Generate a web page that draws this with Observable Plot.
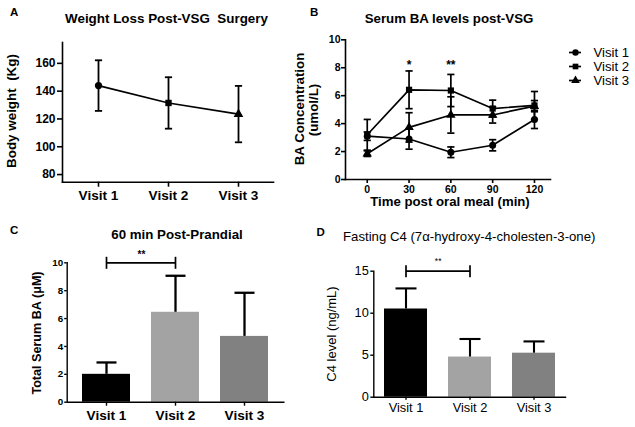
<!DOCTYPE html>
<html><head><meta charset="utf-8">
<script src="https://cdn.jsdelivr.net/npm/d3@7"></script>
<script src="https://cdn.jsdelivr.net/npm/@observablehq/plot@0.6"></script>
<style>
html,body{margin:0;padding:0;background:#fff;}
#fig{position:relative;width:635px;height:427px;overflow:hidden;background:#fff;}
.panel{position:absolute;}
.panel svg{display:block;overflow:visible;}
</style></head><body><div id="fig"></div>
<script>
// ---------- data ----------
const visits = ["Visit 1", "Visit 2", "Visit 3"];
// Panel A: body weight (Kg)
const weightMean = [144, 131.5, 123.5];
const weightErr = [18.2, 18.5, 20.3];
const weightTicks = [80, 100, 120, 140, 160];
// Panel B: serum BA (umol/L) over time
const times = [0, 30, 60, 90, 120];
const baMean = {
  "Visit 1": [3.1, 2.9, 1.95, 2.45, 4.3],
  "Visit 2": [3.2, 6.42, 6.37, 5.08, 5.3],
  "Visit 3": [1.85, 3.73, 4.62, 4.62, 5.25]
};
const baErr = {
  "Visit 1": [0.3, 0.73, 0.38, 0.4, 0.65],
  "Visit 2": [1.1, 1.35, 1.15, 0.6, 1.0],
  "Visit 3": [0.2, 1.05, 1.3, 0.58, 0.4]
};
const baTicks = [0, 2, 4, 6, 8, 10];
const sigB = [{time: 30, label: "*"}, {time: 60, label: "**"}];
// Panel C: 60 min post-prandial total serum BA (uM)
const pp60Mean = [2.0, 6.45, 4.72];
const pp60Err = [0.85, 2.62, 3.13];
const pp60Ticks = [0, 2, 4, 6, 8, 10];
// Panel D: fasting C4 (ng/mL)
const c4Mean = [10.5, 4.78, 5.24];
const c4Err = [2.45, 2.15, 1.4];
const c4Ticks = [0, 5, 10, 15];
const sigC = [{from: "Visit 1", to: "Visit 2", y: 10, ty: 10.55, label: "**"}];
const sigD = [{from: "Visit 1", to: "Visit 2", y: 15, ty: 16.2, label: "**"}];
const barColors = ["#000000", "#a3a3a3", "#818181"];
const symbols = ["circle", "square", "triangle"];

// ---------- helpers ----------
const FONT = '"Liberation Sans", Arial, sans-serif';
const fig = document.getElementById("fig");
const capSym = {draw(ctx, size) { const w = Math.sqrt(size / Math.PI); ctx.moveTo(-w, 0); ctx.lineTo(w, 0); }};
const vcapSym = {draw(ctx, size) { const w = Math.sqrt(size / Math.PI); ctx.moveTo(0, -w); ctx.lineTo(0, w); }};
const axisLines = (w) => [Plot.frame({anchor: "left", strokeWidth: w}), Plot.frame({anchor: "bottom", strokeWidth: w})];

function mount(node, left, top) {
  const d = document.createElement("div");
  d.className = "panel";
  d.style.left = left + "px"; d.style.top = top + "px";
  d.appendChild(node); fig.appendChild(d);
}
function place(text, o) {
  const size = o.size, d = document.createElement("div");
  d.textContent = text;
  Object.assign(d.style, {position: "absolute", whiteSpace: "pre", fontSize: size + "px", lineHeight: size + "px",
    fontWeight: o.weight || "bold", fontFamily: FONT, color: "#000"});
  if (o.rotate) {
    d.style.left = (o.x - 0.3465 * size) + "px";
    d.style.top = o.y + "px";
    d.style.transform = "translate(-50%,-50%) rotate(-90deg)";
  } else {
    d.style.left = o.x + "px";
    d.style.top = (o.y - 0.8465 * size) + "px";
    if (o.anchor === "middle") d.style.transform = "translateX(-50%)";
  }
  fig.appendChild(d);
}

// ---------- Panel A ----------
const weightRows = visits.map((v, i) => ({visit: v, mean: weightMean[i], lo: weightMean[i] - weightErr[i], hi: weightMean[i] + weightErr[i]}));
mount(Plot.plot({
  width: 310, height: 205, marginLeft: 62, marginRight: 37, marginTop: 42, marginBottom: 23.3,
  style: {fontFamily: FONT, fontWeight: "bold", color: "#000", background: "transparent"},
  x: {type: "point", domain: visits, padding: 0.5},
  y: {domain: [74.5, 175]},
  symbol: {domain: visits, range: symbols},
  marks: [
    ...axisLines(1.6),
    Plot.axisY({ticks: weightTicks, tickSize: 5, tickPadding: 2, fontSize: 12, label: null, strokeWidth: 1.6}),
    Plot.axisX({tickSize: 5, tickPadding: 3.5, fontSize: 13.6, label: null, strokeWidth: 1.6}),
    Plot.ruleX(weightRows, {x: "visit", y1: "lo", y2: "hi", strokeWidth: 1.8}),
    Plot.dot(weightRows, {x: "visit", y: "lo", symbol: capSym, r: 3.6, stroke: "black", strokeWidth: 1.8}),
    Plot.dot(weightRows, {x: "visit", y: "hi", symbol: capSym, r: 3.6, stroke: "black", strokeWidth: 1.8}),
    Plot.line(weightRows, {x: "visit", y: "mean", strokeWidth: 1.7}),
    Plot.dot(weightRows, {x: "visit", y: "mean", symbol: "visit", fill: "black", r: 3.6})
  ]
}), 0, 0);

// ---------- Panel B ----------
const baRows = visits.flatMap(v => times.map((t, i) => ({visit: v, time: t, mean: baMean[v][i], lo: baMean[v][i] - baErr[v][i], hi: baMean[v][i] + baErr[v][i]})));
mount(Plot.plot({
  width: 325, height: 215, marginLeft: 35, marginRight: 85, marginTop: 39.3, marginBottom: 36,
  style: {fontFamily: FONT, fontWeight: "bold", color: "#000", background: "transparent"},
  x: {domain: [-15.6, 131.5]},
  y: {domain: [0, 10]},
  symbol: {domain: visits, range: symbols},
  marks: [
    ...axisLines(1.6),
    Plot.axisY({ticks: baTicks, tickSize: 4, tickPadding: 1, fontSize: 10.5, label: null, strokeWidth: 1.6}),
    Plot.axisX({ticks: times, tickSize: 4, tickPadding: 2, fontSize: 10.5, label: null, strokeWidth: 1.6}),
    Plot.ruleX(baRows, {x: "time", y1: "lo", y2: "hi", strokeWidth: 1.7}),
    Plot.dot(baRows, {x: "time", y: "lo", symbol: capSym, r: 3.6, stroke: "black", strokeWidth: 1.7}),
    Plot.dot(baRows, {x: "time", y: "hi", symbol: capSym, r: 3.6, stroke: "black", strokeWidth: 1.7}),
    Plot.line(baRows, {x: "time", y: "mean", z: "visit", strokeWidth: 1.7}),
    Plot.dot(baRows, {x: "time", y: "mean", symbol: "visit", fill: "black", r: 3.5}),
    Plot.text(sigB, {x: "time", y: 8.15, text: "label", fontSize: 12})
  ]
}), 310, 0);

// legend for panel B
mount(Plot.plot({
  width: 70, height: 50, marginLeft: 0, marginRight: 0, marginTop: 11.5, marginBottom: 10.5,
  style: {fontFamily: FONT, color: "#000", background: "transparent"},
  x: {type: "identity", axis: null},
  y: {type: "point", domain: visits, padding: 0, axis: null},
  symbol: {domain: visits, range: symbols},
  marks: [
    Plot.ruleY(visits, {y: d => d, x1: 9, x2: 21, strokeWidth: 1.7}),
    Plot.dot(visits, {x: 15, y: d => d, symbol: d => d, fill: "black", r: 3.2}),
    Plot.text(visits, {x: 33, y: d => d, text: d => d, textAnchor: "start", fontSize: 13.2})
  ]
}), 560, 40);

// ---------- Panel C ----------
const cRows = visits.map((v, i) => ({visit: v, mean: pp60Mean[i], hi: pp60Mean[i] + pp60Err[i]}));
const cHalfStep = d3.scaleBand().domain(visits).range([66.7, 283.3]).paddingInner(0.3).paddingOuter(0.2).step() / 2;
mount(Plot.plot({
  width: 310, height: 222, marginLeft: 66.7, marginRight: 26.7, marginTop: 57.3, marginBottom: 25.3,
  style: {fontFamily: FONT, fontWeight: "bold", color: "#000", background: "transparent"},
  x: {type: "band", domain: visits, paddingInner: 0.3, paddingOuter: 0.2},
  y: {domain: [0, 10]},
  color: {domain: visits, range: barColors},
  marks: [
    Plot.barY(cRows, {x: "visit", y: "mean", fill: "visit"}),
    Plot.ruleX(cRows, {x: "visit", y1: "mean", y2: "hi", strokeWidth: 2.3}),
    Plot.dot(cRows, {x: "visit", y: "hi", symbol: capSym, r: 10, stroke: "black", strokeWidth: 2.3}),
    ...axisLines(1.4),
    Plot.axisY({ticks: pp60Ticks, tickSize: 2.5, tickPadding: 1.5, fontSize: 9.8, label: null, strokeWidth: 1.4}),
    Plot.axisX({tickSize: 4, tickPadding: 4.3, fontSize: 13.6, label: null, strokeWidth: 1.4}),
    Plot.link(sigC, {x1: "from", x2: "to", y1: "y", y2: "y", strokeWidth: 1.7}),
    Plot.dot(sigC, {x: "from", y: "y", symbol: vcapSym, r: 6, stroke: "black", strokeWidth: 1.7}),
    Plot.dot(sigC, {x: "to", y: "y", symbol: vcapSym, r: 6, stroke: "black", strokeWidth: 1.7}),
    Plot.text(sigC, {x: "from", y: "ty", text: "label", dx: cHalfStep, fontSize: 10})
  ]
}), 0, 205);

// ---------- Panel D ----------
const dRows = visits.map((v, i) => ({visit: v, mean: c4Mean[i], hi: c4Mean[i] + c4Err[i]}));
const dHalfStep = d3.scaleBand().domain(visits).range([63.3, 255]).paddingInner(0.33).paddingOuter(0.155).step() / 2;
mount(Plot.plot({
  width: 325, height: 222, marginLeft: 63.3, marginRight: 70, marginTop: 65.7, marginBottom: 30.3,
  style: {fontFamily: FONT, fontWeight: "normal", color: "#000", background: "transparent"},
  x: {type: "band", domain: visits, paddingInner: 0.33, paddingOuter: 0.155},
  y: {domain: [0, 15]},
  color: {domain: visits, range: barColors},
  marks: [
    Plot.barY(dRows, {x: "visit", y: "mean", fill: "visit"}),
    Plot.ruleX(dRows, {x: "visit", y1: "mean", y2: "hi", strokeWidth: 2.1}),
    Plot.dot(dRows, {x: "visit", y: "hi", symbol: capSym, r: 10.5, stroke: "black", strokeWidth: 2.1}),
    ...axisLines(1.4),
    Plot.axisY({ticks: c4Ticks, tickSize: 3, tickPadding: 2, fontSize: 12.8, label: null, strokeWidth: 1.4}),
    Plot.axisX({tickSize: 3, tickPadding: 3, fontSize: 12.8, label: null, strokeWidth: 1.4}),
    Plot.link(sigD, {x1: "from", x2: "to", y1: "y", y2: "y", strokeWidth: 1.7}),
    Plot.dot(sigD, {x: "from", y: "y", symbol: vcapSym, r: 6, stroke: "black", strokeWidth: 1.7}),
    Plot.dot(sigD, {x: "to", y: "y", symbol: vcapSym, r: 6, stroke: "black", strokeWidth: 1.7}),
    Plot.text(sigD, {x: "from", y: "ty", text: "label", dx: dHalfStep, fontSize: 8.5})
  ]
}), 310, 205);

// ---------- texts ----------
place("A", {x: 10, y: 17, size: 11.5});
place("Weight Loss Post-VSG  Surgery", {x: 166.5, y: 23, size: 13.4, anchor: "middle"});
place("Body weight  (Kg)", {x: 16.5, y: 110.5, size: 13.4, rotate: true});

place("B", {x: 310, y: 16.7, size: 11.5});
place("Serum BA levels post-VSG", {x: 449, y: 23, size: 13.3, anchor: "middle"});
place("BA Concentration", {x: 305, y: 108.5, size: 13.3, rotate: true});
place("(umol/L)", {x: 318.5, y: 110, size: 13.3, rotate: true});
place("Time post oral meal (min)", {x: 450, y: 206, size: 13.2, anchor: "middle"});

place("C", {x: 10, y: 235, size: 11.5});
place("60 min Post-Prandial", {x: 177, y: 239, size: 13.3, anchor: "middle"});
place("Total Serum BA (\u03bcM)", {x: 41, y: 332.5, size: 12.6, rotate: true});

place("D", {x: 316.5, y: 236.7, size: 11.5});
place("Fasting C4 (7\u03b1-hydroxy-4-cholesten-3-one)", {x: 343, y: 241.5, size: 13.2, weight: "normal"});
place("C4 level (ng/mL)", {x: 335.5, y: 334, size: 13, weight: "normal", rotate: true});
</script></body></html>
